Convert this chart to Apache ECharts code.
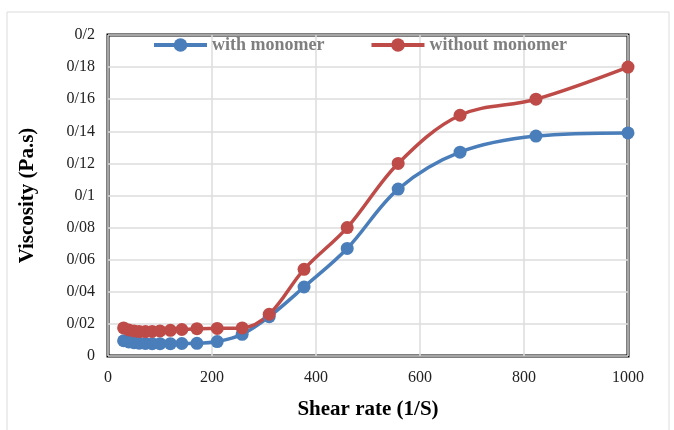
<!DOCTYPE html>
<html>
<head>
<meta charset="utf-8">
<script src="https://cdn.jsdelivr.net/npm/echarts@6/dist/echarts.min.js"></script>
<style>html,body{margin:0;padding:0;background:#fff}#c{width:674px;height:430px}</style>
</head>
<body>
<div id="c"></div>
<script>
const shearRate = [30, 40, 50, 60, 72, 85, 100, 120, 142, 171, 210, 258, 310, 377, 460, 558, 677, 823, 1000];
const withMonomer = [0.0095, 0.0088, 0.0083, 0.0080, 0.0078, 0.0077, 0.0077, 0.0077, 0.0078, 0.0079, 0.0090, 0.0135, 0.0245, 0.043, 0.067, 0.104, 0.127, 0.137, 0.139];
const withoutMonomer = [0.0175, 0.0162, 0.0156, 0.0152, 0.0152, 0.0153, 0.0156, 0.0160, 0.0165, 0.0170, 0.0172, 0.0175, 0.026, 0.054, 0.080, 0.120, 0.150, 0.160, 0.180];
const yTickLabels = ['0', '0/02', '0/04', '0/06', '0/08', '0/1', '0/12', '0/14', '0/16', '0/18', '0/2'];
const xTickLabels = ['0', '200', '400', '600', '800', '1000'];

const chart = echarts.init(document.getElementById('c'));
const serif = '"Liberation Serif", "Times New Roman", serif';
function pairs(ys) { return shearRate.map((x, i) => [x, ys[i]]); }
chart.setOption({
  animation: false,
  backgroundColor: '#fff',
  graphic: [{
    type: 'rect', shape: { x: 7, y: 12, width: 662, height: 430 },
    style: { fill: 'none', stroke: '#dcdcdc', lineWidth: 1 }, silent: true, z: -1
  }],
  grid: { left: 108, right: 46, top: 35, bottom: 74, show: true, borderColor: '#000', borderWidth: 3, backgroundColor: 'transparent' },
  legend: {
    left: 152, top: 36, padding: 0, itemWidth: 53, itemHeight: 17, itemGap: 45,
    lineStyle: { width: 4 },
    textStyle: { fontFamily: serif, fontWeight: 'bold', fontSize: 18, color: '#7f7f7f' },
    data: ['with monomer', 'without monomer']
  },
  xAxis: {
    type: 'value', min: 0, max: 1000, interval: 200,
    name: 'Shear rate (1/S)', nameLocation: 'middle', nameGap: 43,
    nameTextStyle: { fontFamily: serif, fontWeight: 'bold', fontSize: 21, color: '#000' },
    axisLine: { show: false }, axisTick: { show: false },
    axisLabel: { fontFamily: serif, fontSize: 16, color: '#222', margin: 14,
      formatter: v => xTickLabels[Math.round(v / 200)] },
    splitLine: { show: true, lineStyle: { color: '#dcdcdc', width: 1.5 } }
  },
  yAxis: {
    type: 'value', min: 0, max: 0.2, interval: 0.02,
    name: 'Viscosity (Pa.s)', nameLocation: 'middle', nameGap: 70, nameRotate: 90,
    nameTextStyle: { fontFamily: serif, fontWeight: 'bold', fontSize: 21, color: '#000' },
    axisLine: { show: false }, axisTick: { show: false },
    axisLabel: { fontFamily: serif, fontSize: 16, color: '#222', margin: 13,
      formatter: v => yTickLabels[Math.round(v / 0.02)] },
    splitLine: { show: true, lineStyle: { color: '#dcdcdc', width: 1.5 } }
  },
  series: [
    {
      name: 'with monomer', type: 'line', smooth: 0.35, data: pairs(withMonomer),
      symbol: 'circle', symbolSize: 13,
      lineStyle: { color: '#4a7ebb', width: 3.5 }, itemStyle: { color: '#4a7ebb' }
    },
    {
      name: 'without monomer', type: 'line', smooth: 0.35, data: pairs(withoutMonomer),
      symbol: 'circle', symbolSize: 13,
      lineStyle: { color: '#be4b48', width: 3.5 }, itemStyle: { color: '#be4b48' }
    }
  ]
});
</script>
</body>
</html>
